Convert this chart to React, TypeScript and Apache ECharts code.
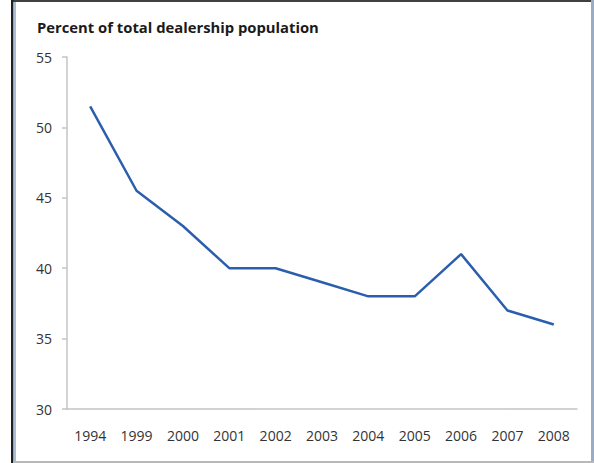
import React, { useEffect, useRef } from "react";
import * as echarts from "echarts";

const title = "Percent of total dealership population";
const years = ["1994", "1999", "2000", "2001", "2002", "2003", "2004", "2005", "2006", "2007", "2008"];
const percent = [51.5, 45.5, 43, 40, 40, 39, 38, 38, 41, 37, 36];
const yTicks = [30, 35, 40, 45, 50, 55];

export default function App() {
  const ref = useRef<HTMLDivElement>(null);
  useEffect(() => {
    if (!ref.current) return;
    const chart = echarts.init(ref.current, null, { renderer: "svg" });
    chart.setOption({
      animation: false,
      backgroundColor: "#ffffff",
      title: {
        text: title,
        left: 32,
        top: 14,
        textStyle: { fontFamily: "Open Sans", fontWeight: "bold", fontSize: 14.8, color: "#1a1a1a" },
      },
      grid: { left: 67, right: 17, top: 57, bottom: 54 },
      xAxis: {
        type: "category",
        data: years,
        boundaryGap: true,
        axisLine: { lineStyle: { color: "#c4c4c4", width: 1.5 } },
        axisTick: { show: false },
        axisLabel: { color: "#333333", fontFamily: "Open Sans", fontSize: 14, margin: 19 },
      },
      yAxis: {
        type: "value",
        min: yTicks[0],
        max: yTicks[yTicks.length - 1],
        interval: 5,
        splitLine: { show: false },
        axisLine: { show: true, lineStyle: { color: "#c4c4c4", width: 1.5 } },
        axisTick: { show: true, length: 5, lineStyle: { color: "#c4c4c4", width: 1.5 } },
        axisLabel: { color: "#333333", fontFamily: "Open Sans", fontSize: 14, margin: 15 },
      },
      series: [
        {
          type: "line",
          data: percent,
          symbol: "none",
          lineStyle: { color: "#2b5fad", width: 2.5 },
        },
      ],
      graphic: [
        { type: "rect", shape: { x: 11, y: 0, width: 583, height: 2 }, style: { fill: "#404040" }, silent: true },
        { type: "rect", shape: { x: 11, y: 0, width: 2.5, height: 463 }, style: { fill: "#202020" }, silent: true },
        { type: "rect", shape: { x: 13.5, y: 2, width: 2.5, height: 461 }, style: { fill: "#a9bdd8" }, silent: true },
        { type: "rect", shape: { x: 591, y: 0, width: 3, height: 463 }, style: { fill: "#9aabc4" }, silent: true },
        { type: "rect", shape: { x: 13, y: 461, width: 581, height: 2 }, style: { fill: "#b8b8b8" }, silent: true },
      ],
    });
    return () => chart.dispose();
  }, []);
  return (
    <div
      ref={ref}
      style={{ position: "fixed", left: 0, top: 0, width: 594, height: 463 }}
    />
  );
}
